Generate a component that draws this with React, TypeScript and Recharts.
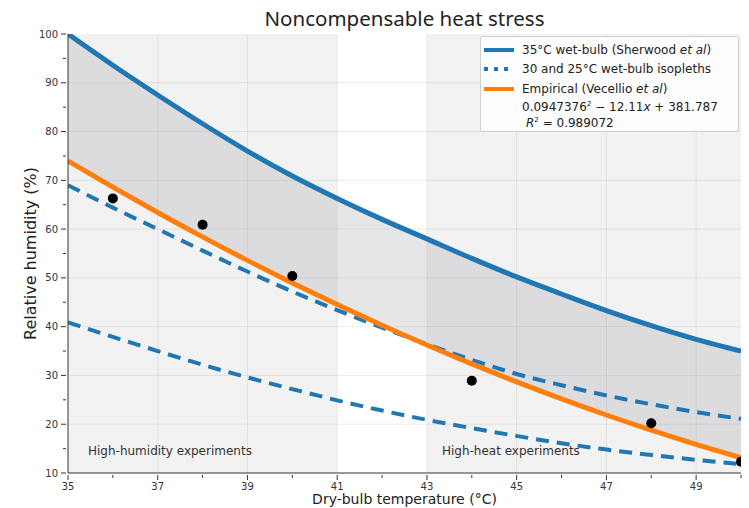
import {
  Area,
  CartesianGrid,
  ComposedChart,
  Legend,
  Line,
  ReferenceArea,
  Scatter,
  XAxis,
  YAxis,
} from "recharts";

// dry-bulb temperature (°C) at which each curve is sampled
const temps = [35, 36, 37, 38, 39, 40, 41, 42, 43, 44, 45, 46, 47, 48, 49, 50];
// relative humidity (%) along the 35°C wet-bulb limit
const wetBulb35 = [100, 93.6, 87.5, 81.6, 76.0, 70.9, 66.3, 62.0, 58.0, 54.0, 50.2, 46.7, 43.3, 40.2, 37.4, 35.0];
// 30°C and 25°C wet-bulb isopleths
const wetBulb30 = [69.0, 64.4, 60.0, 55.6, 51.3, 47.2, 43.4, 39.8, 36.4, 33.2, 30.3, 28.0, 25.9, 24.1, 22.5, 21.1];
const wetBulb25 = [40.9, 37.9, 35.0, 32.2, 29.6, 27.2, 24.9, 22.8, 20.9, 19.2, 17.6, 16.1, 14.8, 13.7, 12.7, 11.8];
// empirical fit
const empirical = [73.99, 68.61, 63.41, 58.41, 53.59, 48.97, 44.53, 40.28, 36.23, 32.36, 28.68, 25.19, 21.89, 18.78, 15.86, 13.13];

// experiment results
const obsTemps = [36, 38, 40, 44, 48, 50];
const obsHumidity = [66.3, 60.9, 50.4, 28.9, 20.2, 12.3];

const xTicks = temps;
const xLabelled = [35, 37, 39, 41, 43, 45, 47, 49];
const yTicks = [10, 15, 20, 25, 30, 35, 40, 45, 50, 55, 60, 65, 70, 75, 80, 85, 90, 95, 100];
const yLabelled = [10, 20, 30, 40, 50, 60, 70, 80, 90, 100];

const data = temps.map((t, i) => ({
  t,
  wb35: wetBulb35[i],
  wb30: wetBulb30[i],
  wb25: wetBulb25[i],
  emp: empirical[i],
}));
const obs = obsTemps.map((t, i) => ({ t, rh: obsHumidity[i] }));

const BLUE = "#1f77b4";
const ORANGE = "#ff7f0e";
const FONT = "DejaVu Sans, sans-serif";

function XTick({ x, y, payload }: any) {
  const major = xLabelled.includes(payload.value);
  return (
    <g>
      <line x1={x} x2={x} y1={y} y2={y + (major ? 5 : 3)} stroke="#333" />
      {major && (
        <text x={x} y={y + 15} textAnchor="middle" fontSize={10} fill="#333" fontFamily={FONT}>
          {payload.value}
        </text>
      )}
    </g>
  );
}

function YTick({ x, y, payload }: any) {
  const major = yLabelled.includes(payload.value);
  return (
    <g>
      <line x1={x} x2={x - (major ? 5 : 3)} y1={y} y2={y} stroke="#333" />
      {major && (
        <text x={x - 8} y={y} dy="0.35em" textAnchor="end" fontSize={10} fill="#333" fontFamily={FONT}>
          {payload.value}
        </text>
      )}
    </g>
  );
}

const bandLabel = (text: string, dx: number) => (props: any) => {
  const { x, y, height } = props.viewBox;
  return (
    <text x={x + dx} y={y + height - 18} fontSize={12} fill="#333" fontFamily={FONT}>
      {text}
    </text>
  );
};

const xAxisTitle = (props: any) => {
  const { x, width } = props.viewBox;
  return (
    <text x={x + width / 2} y={504} textAnchor="middle" fontSize={14} fill="#222" fontFamily={FONT}>
      Dry-bulb temperature (°C)
    </text>
  );
};

function LegendBox() {
  const row = { display: "flex", alignItems: "center", height: 19.5 } as const;
  const sample = (dash?: string, color = BLUE) => (
    <svg width={30} height={8} style={{ marginRight: 8 }}>
      <line x1={0} x2={30} y1={4} y2={4} stroke={color} strokeWidth={4} strokeDasharray={dash} />
    </svg>
  );
  return (
    <div
      style={{
        boxSizing: "border-box",
        width: 259,
        height: 96,
        padding: "3px 0 0 3px",
        background: "rgba(255,255,255,0.85)",
        border: "1px solid #d0d0d0",
        borderRadius: 3,
        fontFamily: FONT,
        fontSize: 12,
        color: "#222",
      }}
    >
      <div style={row}>
        {sample()}
        <span>
          35°C wet-bulb (Sherwood <i>et al</i>)
        </span>
      </div>
      <div style={row}>
        {sample("4 6")}
        <span>30 and 25°C wet-bulb isopleths</span>
      </div>
      <div style={row}>
        {sample(undefined, ORANGE)}
        <span>
          Empirical (Vecellio <i>et al</i>)
        </span>
      </div>
      <div style={{ ...row, paddingLeft: 38, height: 17 }}>
        <span>
          0.0947376<sup style={{ fontSize: 7 }}>2</sup> − 12.11<i>x</i> + 381.787
        </span>
      </div>
      <div style={{ ...row, paddingLeft: 42, height: 15 }}>
        <span>
          <i>R</i>
          <sup style={{ fontSize: 7 }}>2</sup> = 0.989072
        </span>
      </div>
    </div>
  );
}

export default function App() {
  return (
    <div style={{ position: "absolute", left: 0, top: 0, width: 749, height: 508, background: "#fff" }}>
      <div
        style={{
          position: "absolute",
          top: 4,
          left: 68,
          width: 673,
          textAlign: "center",
          fontFamily: "Noto Sans, sans-serif",
          fontSize: 20.5,
          color: "#222",
        }}
      >
        Noncompensable heat stress
      </div>
      <ComposedChart width={749} height={508} data={data} margin={{ top: 34, right: 8, bottom: 0, left: 0 }}>
        <ReferenceArea x1={35} x2={41} fill="#000" fillOpacity={0.05} stroke="none" label={bandLabel("High-humidity experiments", 20)} />
        <ReferenceArea x1={43} x2={50} fill="#000" fillOpacity={0.05} stroke="none" label={bandLabel("High-heat experiments", 15)} />
        <CartesianGrid
          stroke="#000"
          strokeOpacity={0.07}
          horizontalValues={[20, 30, 40, 50, 60, 70, 80, 90]}
          verticalValues={[37, 39, 41, 43, 45, 47, 49]}
        />
        <XAxis
          dataKey="t"
          type="number"
          domain={[35, 50]}
          ticks={xTicks}
          interval={0}
          allowDataOverflow
          height={35}
          tickSize={0}
          tickLine={false}
          tick={<XTick />}
          axisLine={{ stroke: "#333" }}
          label={xAxisTitle}
        />
        <YAxis
          type="number"
          domain={[10, 100]}
          ticks={yTicks}
          interval={0}
          allowDataOverflow
          width={68}
          tickSize={0}
          tickLine={false}
          tick={<YTick />}
          axisLine={{ stroke: "#333" }}
          label={{
            value: "Relative humidity (%)",
            angle: -90,
            position: "insideLeft",
            offset: 30,
            textAnchor: "middle",
            fontSize: 16,
            fill: "#222",
            fontFamily: FONT,
          }}
        />
        <Area
          type="monotone"
          dataKey={(d: any) => [d.emp, d.wb35]}
          fill="#9a9aa8"
          fillOpacity={0.25}
          stroke="none"
          isAnimationActive={false}
          legendType="none"
        />
        <Line type="monotone" dataKey="wb35" stroke={BLUE} strokeWidth={5} dot={false} isAnimationActive={false} />
        <Line type="monotone" dataKey="wb30" stroke={BLUE} strokeWidth={4} strokeDasharray="13 8" dot={false} isAnimationActive={false} />
        <Line type="monotone" dataKey="wb25" stroke={BLUE} strokeWidth={4} strokeDasharray="13 8" dot={false} isAnimationActive={false} />
        <Line type="monotone" dataKey="emp" stroke={ORANGE} strokeWidth={5} dot={false} isAnimationActive={false} />
        <Scatter
          data={obs}
          dataKey="rh"
          isAnimationActive={false}
          shape={(p: any) => <circle cx={p.cx} cy={p.cy} r={5} fill="#000" />}
        />
        <Legend
          layout="horizontal"
          verticalAlign="middle"
          align="center"
          wrapperStyle={{ left: 480, top: 36, width: 259 }}
          content={LegendBox}
        />
      </ComposedChart>
    </div>
  );
}
